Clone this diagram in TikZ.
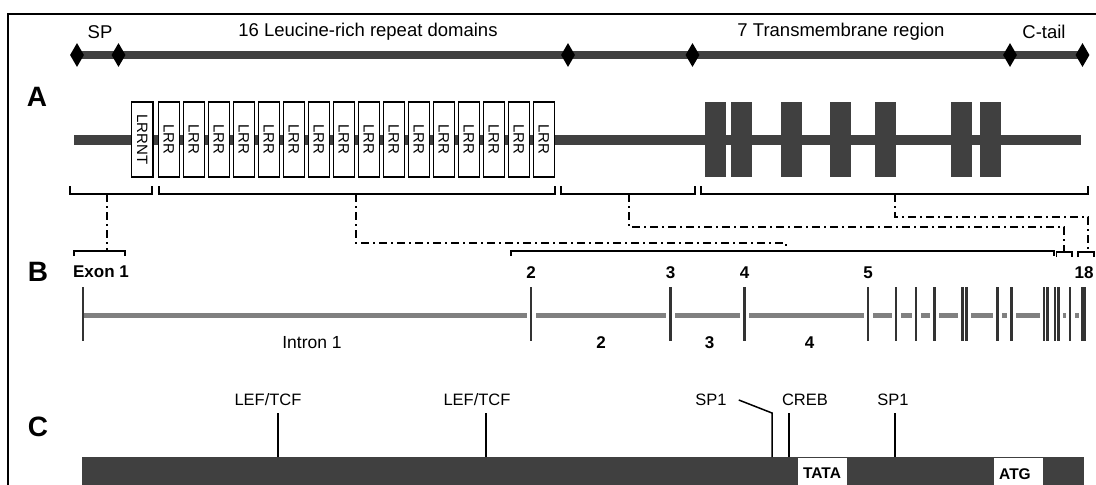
\documentclass[tikz,border=0pt]{standalone}
\usepackage{fontspec}
\setmainfont{Liberation Sans}
\usetikzlibrary{shapes.geometric}
\definecolor{bardark}{HTML}{404040}
\definecolor{introngray}{HTML}{808080}
\definecolor{tickdark}{HTML}{333333}
\tikzset{
  toplab/.style={font=\fontsize{18.5}{21}\selectfont, inner sep=0pt},
  seclab/.style={font=\fontsize{28}{30}\selectfont\bfseries, inner sep=0pt},
  exlab/.style={font=\fontsize{17}{19}\selectfont\bfseries, inner sep=0pt},
  inlab/.style={font=\fontsize{17.5}{19}\selectfont, inner sep=0pt},
  tflab/.style={font=\fontsize{16.5}{18}\selectfont, inner sep=0pt},
  boxlab/.style={font=\fontsize{15.5}{17}\selectfont\bfseries, inner sep=0pt},
  dia/.style={diamond, fill=black, draw=none, minimum width=14pt, minimum height=24pt, inner sep=0pt},
  lrr/.style={draw=black, line width=1.3pt, fill=white, minimum width=21.4pt, minimum height=75pt, inner sep=0pt,
              font=\fontsize{15}{17}\selectfont},
  tm/.style={fill=bardark, draw=none, minimum width=21pt, minimum height=75pt, inner sep=0pt},
  br/.style={draw=black, line width=1.4pt},
  dd/.style={draw=black, line width=1.4pt, dash pattern=on 8pt off 4pt on 2pt off 4pt},
  extick/.style={draw=tickdark, line width=2.6pt},
  tfline/.style={draw=black, line width=1.5pt},
}
\begin{document}
\begin{tikzpicture}[x=1pt,y=-1pt]
\useasboundingbox (0,0) rectangle (1096,485);
% frame
\draw[line width=2pt] (1096,14) -- (8,14) -- (8,485);

% ---------- top domain line ----------
\node[toplab] (sp)  at (100,32)  {SP};
\node[toplab] (lrrt) at (368,32) {16 Leucine-rich repeat domains};
\node[toplab] (tmt) at (841,32)  {7 Transmembrane region};
\node[toplab] (ct)  at (1044,32) {C-tail};
\draw[bardark, line width=8pt] (77,55) -- (1083,55);
\foreach \x/\n in {77/d1,118.5/d2,568/d3,692.5/d4,1010/d5,1082.5/d6}
  \node[dia] (\n) at (\x,55) {};

% ---------- A ----------
\node[seclab] (A) at (37,97) {A};
\draw[bardark, line width=10pt] (74,140) -- (1081,140);
\node[lrr] (nt) at (142.3,139.5) {\rotatebox{-90}{LRRNT}};
\foreach \i in {0,...,15}
  \node[lrr] (lrr\i) at (168.9+25*\i,139.5) {\rotatebox{-90}{LRR}};
\foreach \a/\b [count=\k] in {705/726,731/752,781/802,830/851,875/896,950/972,979/1001}
  \node[tm] (tm\k) at ({(\a+\b)/2},139.5) {};

% brackets under A
\draw[br] (70,186) -- (70,194) -- (152,194) -- (152,186);
\draw[br] (159,186) -- (159,194) -- (555,194) -- (555,186);
\draw[br] (561,186) -- (561,194) -- (695,194) -- (695,186);
\draw[br] (701,186) -- (701,194) -- (1088,194) -- (1088,186);
\coordinate (ab1) at (107,194);
\coordinate (ab2) at (356,194);
\coordinate (ab3) at (629,194);
\coordinate (ab4) at (895,194);

% brackets above B
\draw[br] (74,256) -- (74,251) -- (125,251) -- (125,256);
\draw[br] (511,256) -- (511,251) -- (1054,251) -- (1054,256);
\draw[br] (1056.5,257) -- (1056.5,252) -- (1072,252) -- (1072,257);
\draw[br] (1078,257) -- (1078,252) -- (1094,252) -- (1094,257);
\coordinate (bb1) at (107,251);
\coordinate (bb2) at (786,251);
\coordinate (bb3) at (1064,252);
\coordinate (bb4) at (1088,252);
\coordinate (c2) at (786,243);
\coordinate (c3) at (1064,227);
\coordinate (c4) at (1088,217);

% dash-dot connectors
\draw[dd] (ab1) -- (bb1);
\draw[dd] (ab2) |- (c2) -- (bb2);
\draw[dd] (ab3) |- (c3) -- (bb3);
\draw[dd] (ab4) |- (c4) -- (bb4);

% ---------- B ----------
\node[seclab] (B) at (38,272) {B};
\node[exlab] (e1) at (101,272) {Exon 1};
\node[exlab] (e2) at (531,273) {2};
\node[exlab] (e3) at (670.5,273) {3};
\node[exlab] (e4) at (744.5,273) {4};
\node[exlab] (e5) at (868,273) {5};
\node[exlab] (e18) at (1084,273) {18};

\draw[introngray, line width=5pt] (83,315) -- (1083,315);
\foreach \x in {531,670.5,744.5,868,896,916,934.3,962.3,966.7,997.3,1011.7,1044,1047.3,1055,1058.3,1070,1083.3}
  \fill[white] (\x-4.5,311) rectangle (\x+4.5,319);
\foreach \x in {83,531,670.5,744.5,868,896,916,934.3,962.3,966.7,997.3,1011.7,1044,1047.3,1055,1058.3,1070}
  \draw[extick] (\x,287) -- (\x,341);
\draw[tickdark, line width=5pt] (1083.3,287) -- (1083.3,341);

\node[inlab] (i1) at (312,343) {Intron 1};
\node[exlab] (i2) at (601,343) {2};
\node[exlab] (i3) at (709.5,343) {3};
\node[exlab] (i4) at (809.5,343) {4};

% ---------- C ----------
\node[seclab] (C) at (38,427) {C};
\fill[bardark] (82,457) rectangle (1084,485);
\fill[white] (798,458) rectangle (847,485);
\fill[white] (994,458) rectangle (1043,485);
\node[boxlab] (tata) at (822,473) {TATA};
\node[boxlab] (atg) at (1015,474) {ATG};

\node[tflab] (lef1) at (268,400) {LEF/TCF};
\node[tflab] (lef2) at (477,400) {LEF/TCF};
\node[tflab] (sp1a) at (711,400) {SP1};
\node[tflab] (creb) at (805,400) {CREB};
\node[tflab] (sp1b) at (893,400) {SP1};
\coordinate (l1) at (278,457);
\coordinate (l2) at (486,457);
\coordinate (s1k) at (772,413);
\coordinate (s1) at (772,457);
\coordinate (cr) at (789,457);
\coordinate (s2) at (895,457);
\draw[tfline] (278,413) -- (l1);
\draw[tfline] (486,413) -- (l2);
\draw[tfline] (sp1a.east) ++(12pt,0) -- (s1k) -- (s1);
\draw[tfline] (789,413) -- (cr);
\draw[tfline] (895,413) -- (s2);
\end{tikzpicture}
\end{document}
